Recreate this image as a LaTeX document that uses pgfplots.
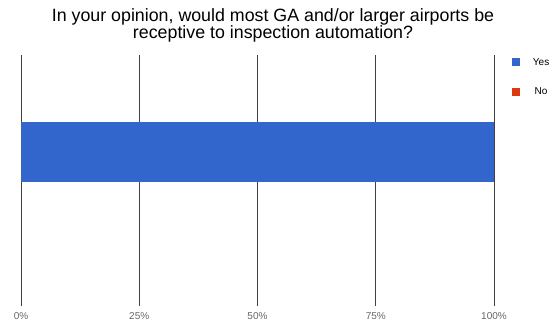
\documentclass[border=0pt]{standalone}
\usepackage{pgfplots}
\pgfplotsset{compat=1.18}
\usepackage{fontspec}
\setmainfont{Liberation Sans}
\definecolor{gyes}{HTML}{3366CC}
\definecolor{gno}{HTML}{DC3912}
\begin{document}
\begin{tikzpicture}
\path (-21pt,-19pt) rectangle (532pt,306pt);
\begin{axis}[
  at={(0,0)}, anchor=south west,
  scale only axis, width=473pt, height=251pt,
  xbar, bar width=60pt, bar shift=0pt,
  xmin=0, xmax=100, ymin=0, ymax=251,
  axis line style={draw=none},
  xtick={0,25,50,75,100},
  xticklabels={0\%,25\%,50\%,75\%,100\%},
  ytick=\empty,
  xmajorgrids,
  grid style={black!75, line width=0.6pt},
  major tick length=0pt,
  x tick label style={font=\fontsize{10}{11}\selectfont, text=black!60, yshift=-3pt},
  /pgf/number format/assume math mode=true,
  legend style={draw=none, fill=none, at={(rel axis cs:1.038,0.995)}, anchor=north west,
    font=\fontsize{10}{11}\selectfont, row sep=17pt, inner sep=0pt, outer sep=0pt},
  legend image code/.code={\fill[#1] (0pt,-4pt) rectangle (8pt,4pt); \path[draw=none,fill=none] (0pt,0pt) rectangle (19pt,0.1pt);},
  clip=false,
]
\addplot[fill=gyes, draw=none] coordinates {(100,154)};
\addlegendentry{Yes}
\addplot[fill=gno, draw=none] coordinates {(0,154)};
\addlegendentry{No}
\end{axis}
\node[anchor=north, align=center, font=\fontsize{17.8}{17}\selectfont, inner sep=0pt] at (252pt,298pt)
  {In your opinion, would most GA and/or larger airports be\\receptive to inspection automation?};
\end{tikzpicture}
\end{document}
